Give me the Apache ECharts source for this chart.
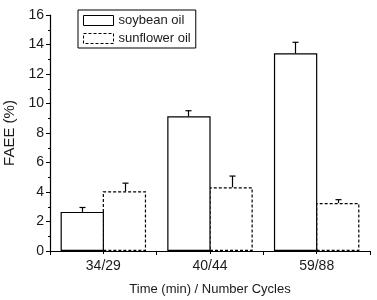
<!DOCTYPE html>
<html>
<head>
<meta charset="utf-8">
<script src="https://cdn.jsdelivr.net/npm/echarts@6/dist/echarts.min.js"></script>
<style>
  html, body { margin: 0; padding: 0; background: #fff; }
  #chart { width: 377px; height: 300px; }
</style>
</head>
<body>
<div id="chart"></div>
<script>
// categories and values
var categories = ['34/29', '40/44', '59/88'];
var seriesNames = ['soybean oil', 'sunflower oil'];
var soybeanValues = [2.65, 9.13, 13.4];
var soybeanErrors = [0.3, 0.38, 0.75];
var sunflowerValues = [4.05, 4.32, 3.25];
var sunflowerErrors = [0.55, 0.76, 0.23];
var yTicks = [0, 2, 4, 6, 8, 10, 12, 14, 16];

var FONT = 'Liberation Sans';
var TXT = '#1a1a1a';
var BAR_FRAC = 0.40625;   // each bar as a share of one category
var BORDER = 1.2;

/*
	error bars, drawn only upward with a small cap
	side: -1 left bar, +1 right bar
*/
function errorSeries(name, values, errors, side) {
	var data = [];
	for (var i = 0; i < values.length; i++) {
		data.push([i, values[i], values[i] + errors[i]]);
	}
	return {
		name: name + ' err',
		type: 'custom',
		silent: true,
		z: 5,
		data: data,
		renderItem: function (params, api) {
			var catW = api.size([1, 0])[0];
			var p0 = api.coord([api.value(0), api.value(1)]);
			var p1 = api.coord([api.value(0), api.value(2)]);
			var x = Math.round(p0[0] + side * catW * BAR_FRAC / 2) + 0.5;
			var cap = 3;
			var st = { stroke: '#000', lineWidth: 1.2 };
			return {
				type: 'group',
				children: [
					{ type: 'line', shape: { x1: x, y1: p0[1], x2: x, y2: p1[1] }, style: st },
					{ type: 'line', shape: { x1: x - cap, y1: p1[1], x2: x + cap, y2: p1[1] }, style: st }
				]
			};
		}
	};
}

var myChart = echarts.init(document.getElementById('chart'));
var option = {
	animation: false,
	backgroundColor: '#fff',
	textStyle: { fontFamily: FONT, color: TXT },
	grid: { left: 50, right: 7, top: 15, bottom: 49, containLabel: false, outerBoundsMode: 'none' },
	legend: {
		data: [
			{ name: seriesNames[0], itemStyle: { color: '#fff', borderColor: '#000', borderWidth: 1, borderType: 'solid' } },
			{ name: seriesNames[1], itemStyle: { color: '#fff', borderColor: '#000', borderWidth: 1, borderType: [3, 2] } }
		],
		icon: 'rect',
		orient: 'vertical',
		left: 78,
		top: 10,
		itemWidth: 30,
		itemHeight: 10,
		itemGap: 5,
		padding: [4, 5, 3, 5],
		borderColor: '#000',
		borderWidth: 1,
		borderRadius: 0,
		textStyle: { fontFamily: FONT, fontSize: 13, color: TXT }
	},
	xAxis: [
		{
			type: 'category',
			data: categories,
			name: 'Time (min) / Number Cycles',
			nameLocation: 'middle',
			nameGap: 32,
			nameTextStyle: { fontFamily: FONT, fontSize: 13, color: TXT },
			axisLine: { lineStyle: { color: '#000', width: 1.2 } },
			axisTick: { show: true, inside: false, length: 4, interval: 0, lineStyle: { color: '#000' } },
			axisLabel: { fontFamily: FONT, fontSize: 14, color: TXT, margin: 8 }
		},
		{
			// ticks at category centres
			type: 'category',
			data: categories,
			position: 'bottom',
			axisLine: { show: false },
			axisLabel: { show: false },
			axisTick: { show: true, alignWithLabel: true, length: 3, lineStyle: { color: '#000' } },
			splitLine: { show: false }
		}
	],
	yAxis: {
		type: 'value',
		min: yTicks[0],
		max: yTicks[yTicks.length - 1],
		interval: 2,
		name: 'FAEE (%)',
		nameLocation: 'middle',
		nameGap: 25,
		nameTextStyle: { fontFamily: FONT, fontSize: 15, color: TXT },
		axisLine: { show: true, lineStyle: { color: '#000', width: 1.2 } },
		axisTick: { show: true, length: 4, lineStyle: { color: '#000' } },
		minorTick: { show: true, splitNumber: 2, length: 2, lineStyle: { color: '#000' } },
		splitLine: { show: false },
		axisLabel: { fontFamily: FONT, fontSize: 14, color: TXT, margin: 6 }
	},
	series: [
		{
			name: seriesNames[0],
			type: 'bar',
			data: soybeanValues,
			barWidth: (BAR_FRAC * 100) + '%',
			barGap: '-2.77%',
			z: 3,
			itemStyle: { color: '#fff', borderColor: '#000', borderWidth: BORDER, borderType: 'solid' }
		},
		{
			name: seriesNames[1],
			type: 'bar',
			data: sunflowerValues,
			barWidth: (BAR_FRAC * 100) + '%',
			barGap: '-2.77%',
			z: 2,
			itemStyle: { color: '#fff', borderColor: '#000', borderWidth: BORDER, borderType: [3, 2] }
		},
		errorSeries(seriesNames[0], soybeanValues, soybeanErrors, -1),
		errorSeries(seriesNames[1], sunflowerValues, sunflowerErrors, 1)
	]
};

if (option && typeof option === "object") {
	myChart.setOption(option, true);
}
</script>
</body>
</html>
